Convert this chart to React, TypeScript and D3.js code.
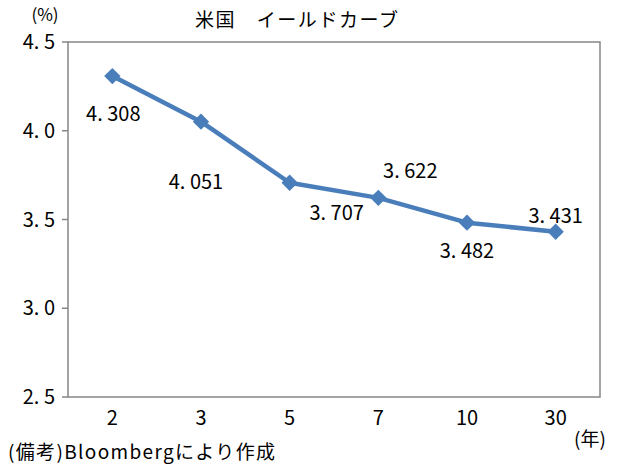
import React from "react";
import * as d3 from "d3";

const categories = ["2", "3", "5", "7", "10", "30"];
const yields = [4.308, 4.051, 3.707, 3.622, 3.482, 3.431];
const yTicks = [2.5, 3.0, 3.5, 4.0, 4.5];
const labelOffsets: [number, number][] = [
  [1, 38],
  [-5, 60],
  [47, 30],
  [32, -27],
  [0, 28],
  [0, -16],
];

const W = 630;
const H = 471;
const M = { left: 68, right: 30, top: 42, bottom: 74 };
const FONT = "'Noto Sans CJK JP', 'DejaVu Sans', sans-serif";

export default function App() {
  const x = d3
    .scaleBand<string>()
    .domain(categories)
    .range([M.left, W - M.right])
    .padding(0);
  const y = d3.scaleLinear().domain([2.5, 4.5]).range([H - M.bottom, M.top]);
  const cx = (c: string) => (x(c) ?? 0) + x.bandwidth() / 2;
  const line = d3
    .line<number>()
    .x((_, i) => cx(categories[i]))
    .y((d) => y(d));
  const fmt = (v: number) => v.toFixed(3).replace(".", ". ");
  const fmt1 = (v: number) => v.toFixed(1).replace(".", ". ");
  const diamond = d3.symbol(d3.symbolDiamond2, 170)();
  return (
    <svg
      width={W}
      height={H}
      style={{ position: "absolute", left: 0, top: 0, background: "#fff" }}
      fontFamily={FONT}
    >
      <rect x={0} y={0} width={W} height={H} fill="#fff" />
      <text x={195} y={27} fontSize={19} textLength={203} lengthAdjust="spacing" fill="#000">
        米国　イールドカーブ
      </text>
      <text x={45} y={21} fontSize={17} textAnchor="middle" fill="#000">
        (%)
      </text>
      <rect
        x={M.left}
        y={M.top}
        width={W - M.left - M.right}
        height={H - M.top - M.bottom}
        fill="none"
        stroke="#868686"
        strokeWidth={1.5}
      />
      {yTicks.map((t) => (
        <g key={t}>
          <line x1={M.left - 6} x2={M.left} y1={y(t)} y2={y(t)} stroke="#868686" strokeWidth={1.5} />
          <text
            x={55}
            y={y(t)}
            dy="0.36em"
            fontSize={20}
            textAnchor="end"
            fill="#000"
          >
            {fmt1(t)}
          </text>
        </g>
      ))}
      {categories.map((c) => (
        <text key={c} x={cx(c)} y={H - M.bottom + 28} fontSize={20} textAnchor="middle" fill="#000">
          {c}
        </text>
      ))}
      <text x={590} y={446} fontSize={19} textAnchor="middle" fill="#000">
        (年)
      </text>
      <text x={8} y={459} fontSize={19} textLength={267} lengthAdjust="spacing" fill="#000">
        (備考)Bloombergにより作成
      </text>
      <path d={line(yields) ?? ""} fill="none" stroke="#4A7EBB" strokeWidth={4.5} strokeLinejoin="round" />
      {yields.map((v, i) => (
        <path
          key={i}
          d={diamond ?? ""}
          transform={`translate(${cx(categories[i])},${y(v)})`}
          fill="#4A7EBB"
        />
      ))}
      {yields.map((v, i) => (
        <text
          key={"l" + i}
          x={cx(categories[i]) + labelOffsets[i][0]}
          y={y(v) + labelOffsets[i][1]}
          dy="0.36em"
          fontSize={20}
          textAnchor="middle"
          fill="#000"
        >
          {fmt(v)}
        </text>
      ))}
    </svg>
  );
}
